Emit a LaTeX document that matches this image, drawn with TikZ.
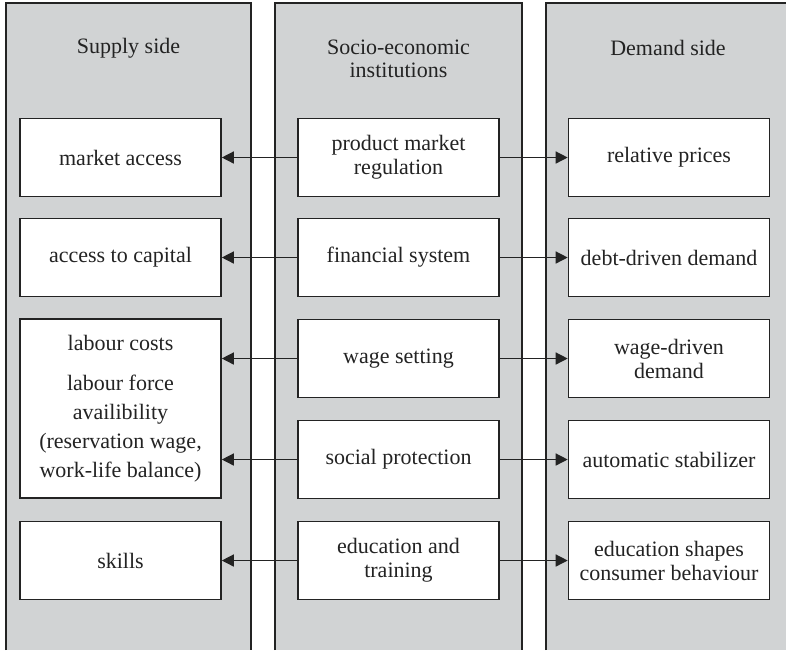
\documentclass[tikz,border=0pt]{standalone}
\usepackage{fontspec}
\setmainfont{Liberation Serif}
\usetikzlibrary{positioning,arrows.meta}
\definecolor{panelgray}{RGB}{209,211,212}
\definecolor{inkgray}{RGB}{35,35,35}
\tikzset{
  panel/.style={draw=inkgray, line width=0.7pt},
  itembox/.style={draw=inkgray, fill=white, line width=0.8pt, minimum width=100.5pt,
    minimum height=39pt, align=center, inner sep=2pt, text=inkgray,
    font=\fontsize{11}{12}\selectfont},
  headtxt/.style={align=center, text=inkgray, font=\fontsize{11}{11.5}\selectfont},
  link/.style={draw=inkgray, line width=0.7pt, -{Triangle[length=6pt,width=6pt]}},
}
\begin{document}
\begin{tikzpicture}[x=0.5pt,y=-0.5pt]
                \useasboundingbox (0,0) rectangle (786,650);
                % columns
                \fill[panelgray] (6,3) rectangle (251,650);
                \fill[panelgray] (275,3) rectangle (522,650);
                \fill[panelgray] (546,3) rectangle (786,650);
                \draw[panel] (6,650) -- (6,3) -- (251,3) -- (251,650);
                \draw[panel] (275,650) -- (275,3) -- (522,3) -- (522,650);
                \draw[panel] (546,650) -- (546,3) -- (786,3);
                % headers
                \node[headtxt] (supply) at (128.5,48) {Supply side};
                \node[headtxt] (inst) at (398.5,59) {Socio-economic\\institutions};
                \node[headtxt] (demand) at (668,48) {Demand side};
                % institutions
                \node[itembox] (pmr) at (398.5,157.5) {product market\\regulation};
                \node[itembox] (fin) at (398.5,257.5) {financial system};
                \node[itembox] (wage) at (398.5,358.5) {wage setting};
                \node[itembox] (soc) at (398.5,459.5) {social protection};
                \node[itembox] (edu) at (398.5,560.5) {education and\\training};
                % supply side
                \node[itembox] (mkt) at (120.5,157.5) {market access};
                \node[itembox] (cap) at (120.5,257.5) {access to capital};
                \node[itembox, minimum height=89.5pt, font=\fontsize{11}{14.5}\selectfont] (lab) at (120.5,408.5)
                    {labour costs\\[5.5pt]labour force\\availibility\\(reservation wage,\\work-life balance)};
                \node[itembox] (skl) at (120.5,560.5) {skills};
                % demand side
                \node[itembox] (rel) at (669,157.5) {relative prices};
                \node[itembox] (debt) at (669,257.5) {debt-driven demand};
                \node[itembox] (wdd) at (669,358.5) {wage-driven\\demand};
                \node[itembox] (auto) at (669,459.5) {automatic stabilizer};
                \node[itembox] (cons) at (669,560.5) {education shapes\\consumer behaviour};
                % links
                \draw[link] (pmr.west) -- (mkt.east);
                \draw[link] (fin.west) -- (cap.east);
                \draw[link] (wage.west) -- (wage.west -| lab.east);
                \draw[link] (soc.west) -- (soc.west -| lab.east);
                \draw[link] (edu.west) -- (skl.east);
                \draw[link] (pmr.east) -- (rel.west);
                \draw[link] (fin.east) -- (debt.west);
                \draw[link] (wage.east) -- (wdd.west);
                \draw[link] (soc.east) -- (auto.west);
                \draw[link] (edu.east) -- (cons.west);
\end{tikzpicture}
\end{document}
